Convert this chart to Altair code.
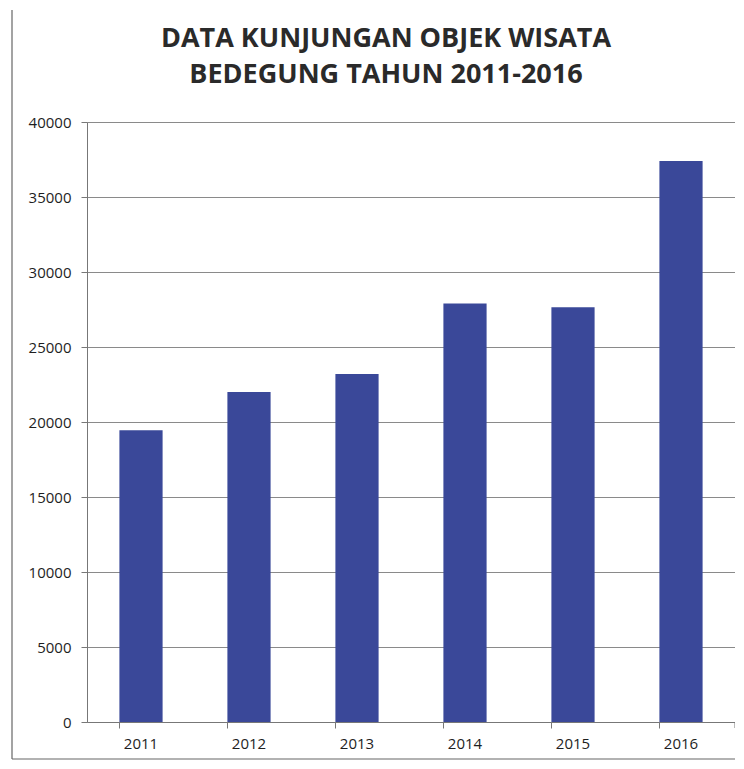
import altair as alt
import pandas as pd

years = ["2011", "2012", "2013", "2014", "2015", "2016"]
visits = [19450, 22000, 23200, 27900, 27650, 37400]
title_lines = ["DATA KUNJUNGAN OBJEK WISATA", "BEDEGUNG TAHUN 2011-2016"]
y_ticks = [0, 5000, 10000, 15000, 20000, 25000, 30000, 35000, 40000]

df = pd.DataFrame({"Tahun": years, "Kunjungan": visits})

bars = alt.Chart(df).mark_bar(color="#3a4899").encode(
    x=alt.X("Tahun:N", sort=years, title=None,
            scale=alt.Scale(paddingInner=0.6, paddingOuter=0.3),
            axis=alt.Axis(labelAngle=0, bandPosition=0, tickSize=6, labelPadding=8,
                          labelFontSize=15, labelFont="Open Sans", labelColor="#1e1e1e",
                          domainColor="#777777", tickColor="#777777", grid=False)),
    y=alt.Y("Kunjungan:Q", title=None,
            scale=alt.Scale(domain=[0, 40000], nice=False),
            axis=alt.Axis(values=y_ticks, format="d", tickSize=6, labelPadding=10,
                          labelFontSize=15, labelFont="Open Sans", labelColor="#1e1e1e",
                          domainColor="#777777", tickColor="#777777",
                          grid=True, gridColor="#8a8a8a", gridWidth=1)),
)

frame_df = pd.DataFrame({"k": [0]})
frame_left = alt.Chart(frame_df).mark_rule(color="#666666", strokeWidth=1.2).encode(
    x=alt.value(-75), y=alt.value(-112), y2=alt.value(637))
frame_bottom = alt.Chart(frame_df).mark_rule(color="#666666", strokeWidth=1.2).encode(
    x=alt.value(-75), x2=alt.value(654), y=alt.value(637))
end_tick = alt.Chart(frame_df).mark_rule(color="#777777").encode(
    x=alt.value(648), y=alt.value(600), y2=alt.value(606))

chart = alt.layer(bars, frame_left, frame_bottom, end_tick).properties(
    width=648, height=600,
    autosize=alt.AutoSizeParams(type="none"),
    padding={"left": 79, "top": 114, "right": 0, "bottom": 39},
    title=alt.TitleParams(text=title_lines, anchor="middle", frame="group", dx=-25,
                          dy=80, fontSize=27, font="Open Sans", fontWeight="bold",
                          color="#2a2a2a", lineHeight=36, offset=0),
).configure_view(stroke=None).configure(background="white")

chart.save("out.html", embed_options={"renderer": "svg", "actions": False})
